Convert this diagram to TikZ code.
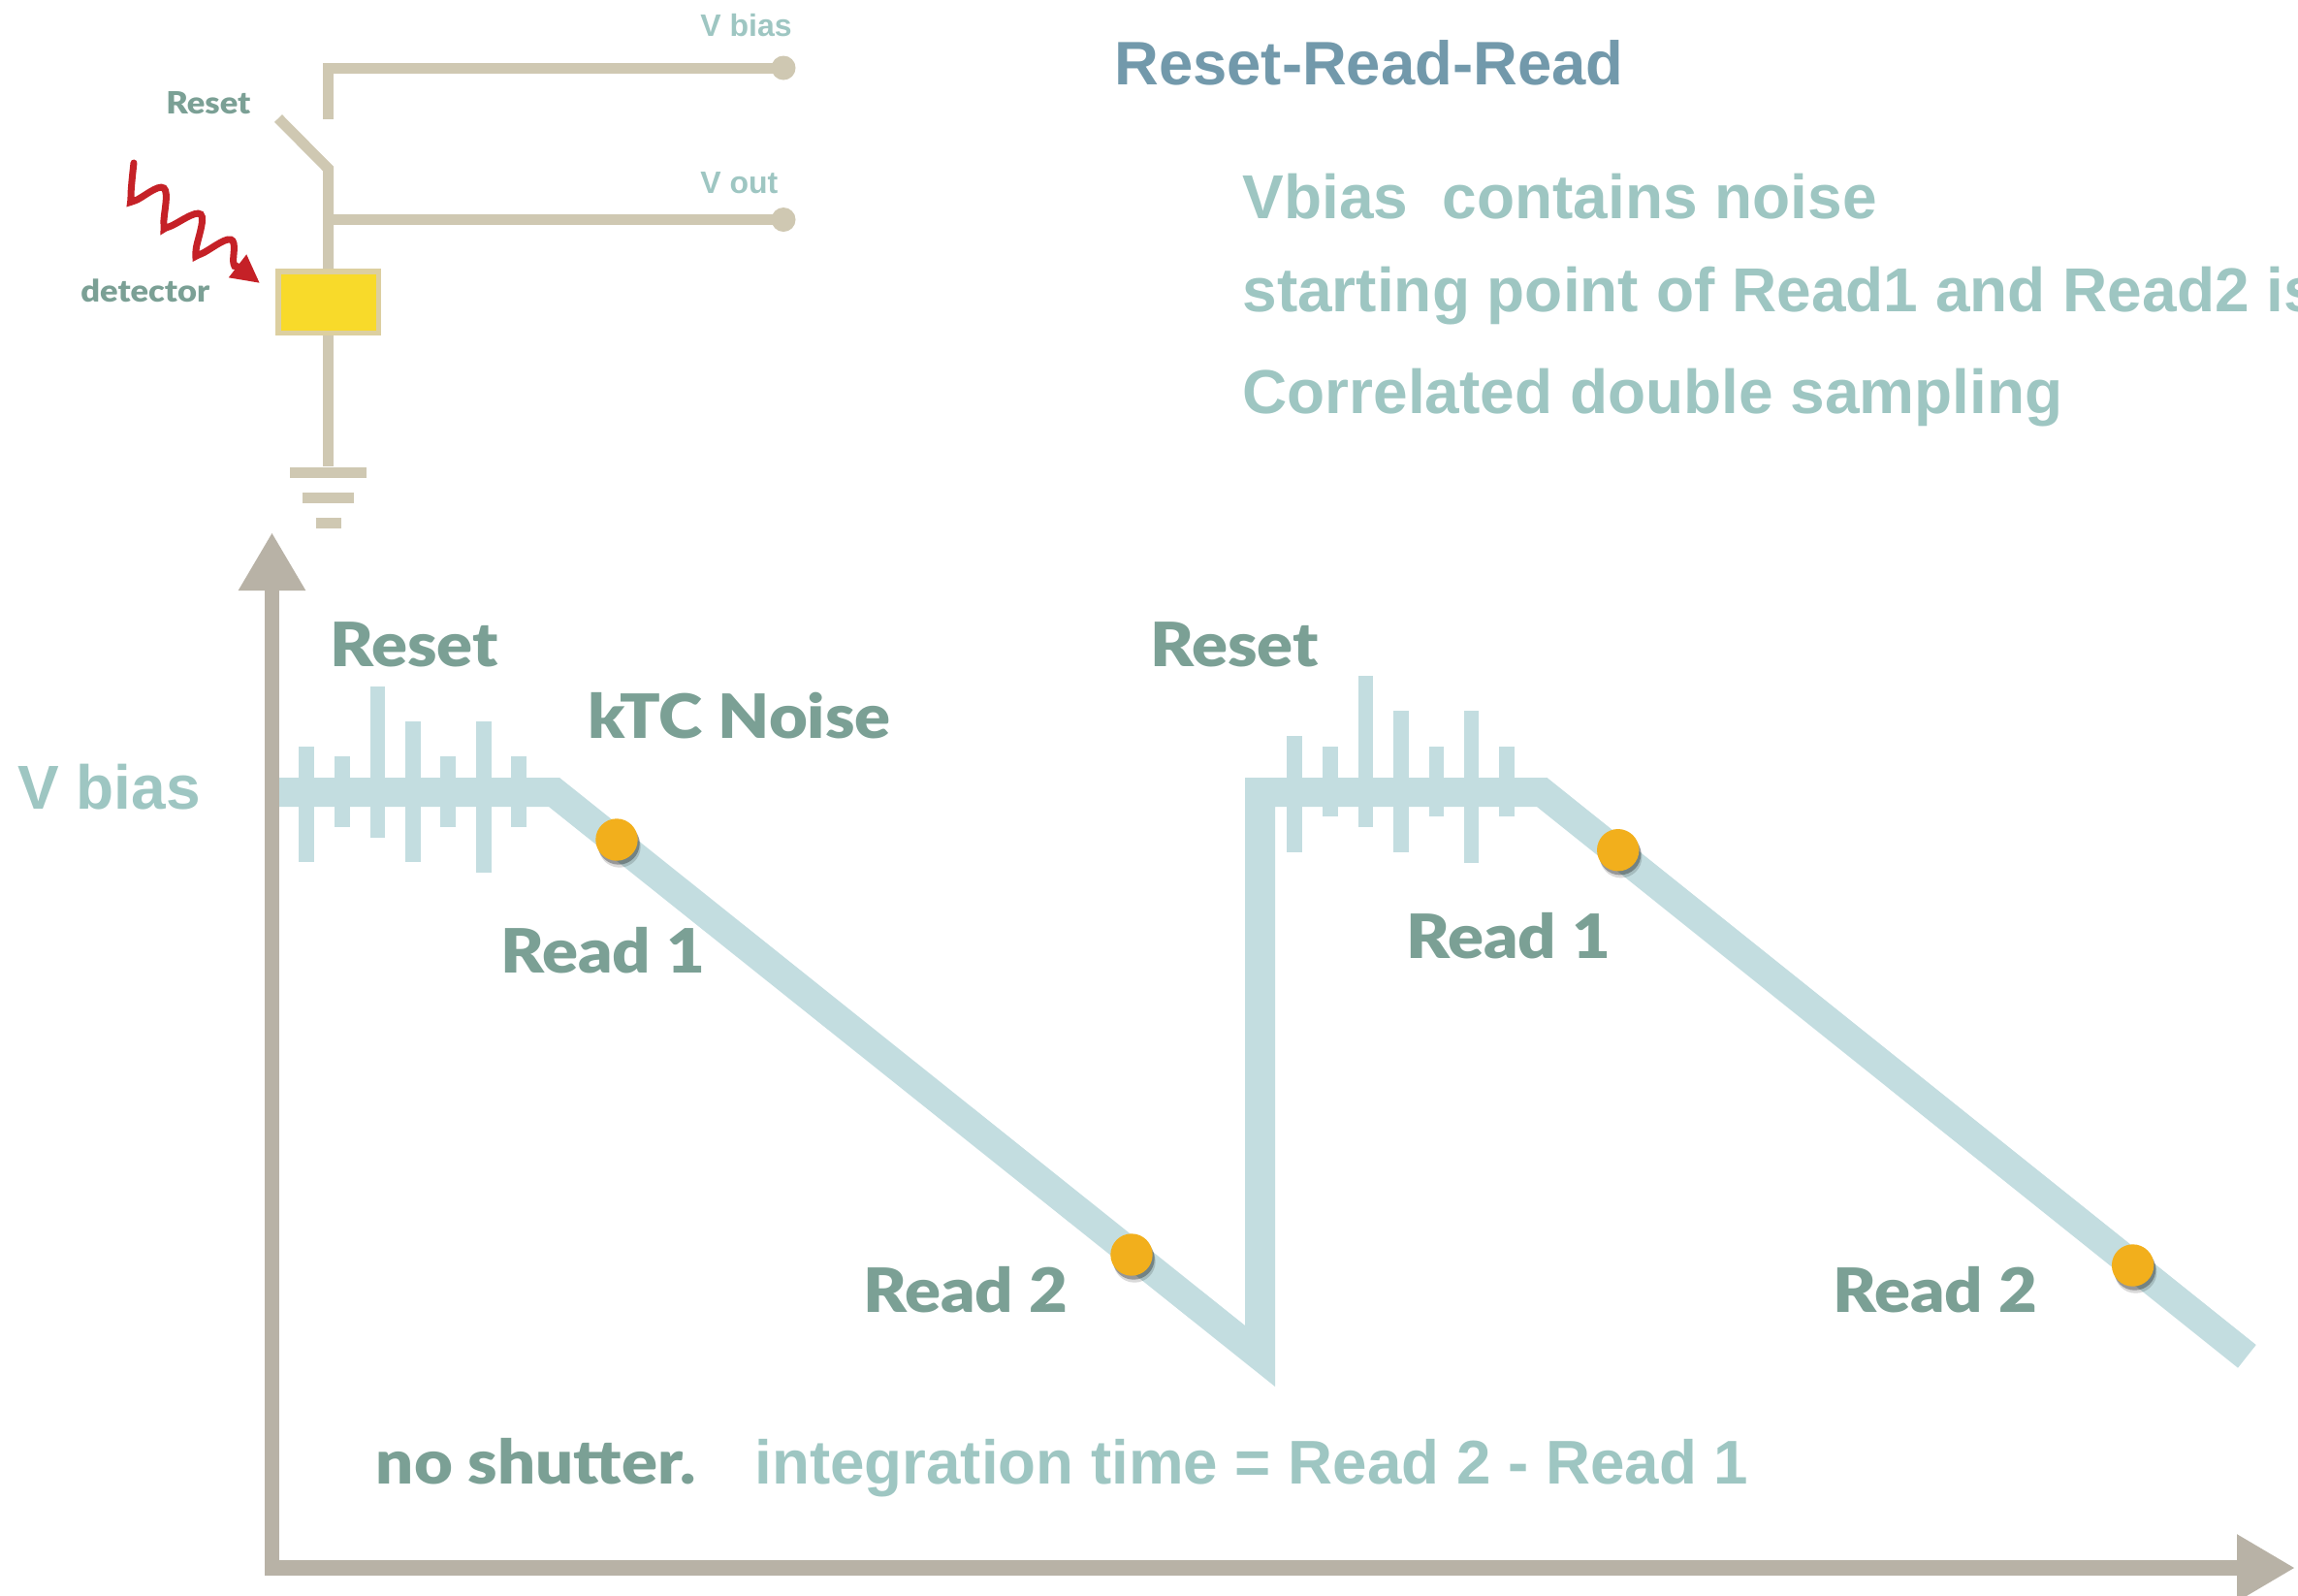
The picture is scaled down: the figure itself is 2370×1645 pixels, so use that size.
\documentclass[tikz,border=0pt]{standalone}
\usepackage{fontspec}
\setmainfont{Liberation Sans}
\newfontfamily\labelfont[FakeStretch=1.09]{Lato Black}
\usetikzlibrary{arrows.meta}
\usetikzlibrary{shadows}
\definecolor{wirecol}{HTML}{CFC8B2}
\definecolor{axiscol}{HTML}{B8B2A6}
\definecolor{tracecol}{HTML}{C3DDE0}
\definecolor{greencol}{HTML}{7BA095}
\definecolor{palecol}{HTML}{9EC6C2}
\definecolor{titlecol}{HTML}{7299AB}
\definecolor{dotcol}{HTML}{F2AF1C}
\definecolor{detcol}{HTML}{F8DA2A}
\definecolor{detedge}{HTML}{DCCFA0}
\definecolor{photoncol}{HTML}{C52127}
\tikzset{wire/.style={draw=wirecol, line width=5.5pt}}
\tikzset{terminal/.style={circle, fill=wirecol, inner sep=0pt, minimum size=12.5pt}}
\tikzset{gndbar/.style={rectangle, fill=wirecol, inner sep=0pt, minimum height=5.5pt}}
\tikzset{axis/.style={draw=axiscol, line width=7.75pt, {Triangle[length=30pt,width=32.5pt]}-{Triangle[length=30pt,width=32.5pt]}}}
\tikzset{noise/.style={draw=tracecol, line width=7.75pt}}
\tikzset{readdot/.style={circle, fill=dotcol, inner sep=0pt, minimum size=21.7pt, drop shadow={shadow xshift=1.5pt, shadow yshift=-3.5pt, opacity=.15, fill=black}, drop shadow={shadow xshift=1pt, shadow yshift=-2pt, opacity=.3, fill=black}}}
\tikzset{txt/.style={anchor=base west, inner sep=0pt}}
\tikzset{bigpale/.style={txt, text=palecol, font=\bfseries\fontsize{32pt}{36pt}\selectfont}}
\tikzset{biggreen/.style={txt, text=greencol, font=\labelfont\fontsize{31.5pt}{36pt}\selectfont}}
\tikzset{smallpale/.style={txt, text=palecol, font=\bfseries\fontsize{16pt}{18pt}\selectfont}}
\tikzset{smallgreen/.style={txt, text=greencol, font=\labelfont\fontsize{15.8pt}{18pt}\selectfont}}

\begin{document}
\begin{tikzpicture}[x=0.5pt,y=-0.5pt]
    \useasboundingbox (0,0) rectangle (2370,1645);

    % circuit
    \node[terminal]       (vbiaspin)    at (808,70)      {};
    \node[terminal]       (voutpin)     at (808,226.5)   {};
    \node[rectangle, draw=detedge, line width=2.75pt, fill=detcol, minimum width=51.75pt, minimum height=31.75pt] (detector) at (338.5,311.5) {};
    \node[gndbar, minimum width=39.5pt]   (gnda)  at (338.5,487)   {};
    \node[gndbar, minimum width=26.25pt]  (gndb)  at (338.5,513)   {};
    \node[gndbar, minimum width=13pt]     (gndc)  at (338.5,539)   {};
    \coordinate (contact)  at (338.5,122.5);
    \coordinate (swfree)   at (287,122);
    \coordinate (swpivot)  at (338.5,174);
    \coordinate (voutjoin) at (338.5,226.5);

    \draw[wire] (contact) |- (vbiaspin.center);
    \draw[wire] (swfree) -- (swpivot) -- (detector.north);
    \draw[wire] (voutjoin) -- (voutpin.center);
    \draw[wire] (detector.south) -- (gnda.north);

    \draw[draw=photoncol, line width=3.5pt, line cap=round, -{Triangle[length=14.5pt,width=14pt]}] plot[smooth, tension=.7] coordinates {(138,168) (135,203) (139,207) (169,194) (169,231) (174,234) (207,221) (202,259) (207,262) (238,247) (241,272) (247,276) (268,292)};

    \node[smallpale]  (vbiassmall) at (722,37)  {V bias};
    \node[smallpale]  (voutsmall)  at (722,199) {V out};
    \node[smallgreen] (resetsmall) at (171,117.5) {Reset};
    \node[smallgreen] (detlabel)   at (83,311)  {detector};

    % title and notes
    \node[bigpale, text=titlecol, font=\bfseries\fontsize{31.7pt}{36pt}\selectfont] (title) at (1149,87) {Reset-Read-Read};
    \node[bigpale] (noteone)   at (1281,225.7) {Vbias\ \ contains noise};
    \node[bigpale] (notetwo)   at (1281,321.7) {starting point of Read1 and Read2 is};
    \node[bigpale] (notethree) at (1281,426)   {Correlated double sampling};

    % axes
    \coordinate (ytop)  at (280.5,549);
    \coordinate (xtip)  at (2367,1617);
    \draw[axis] (ytop) |- (xtip);

    % signal
    \fill[tracecol] (288,802) -- (577,802) -- (1284,1367) -- (1284,802) -- (1595.5,802) -- (2326.7,1387) -- (2308,1410.7) -- (1585,832) -- (1315,832) -- (1315,1430) -- (566,832) -- (288,832) -- cycle;
    \foreach \x/\t/\b in {316/770/889, 353/780/853, 389.5/708/864, 426/744/889, 462/780/853, 499/744/900, 535/780/853}
        \draw[noise] (\x,\t) -- (\x,\b);
    \foreach \x/\t/\b in {1335/759/879, 1372/770/842, 1408.7/697/853, 1445/733/879, 1481.5/770/842, 1517.6/733/890, 1554/770/842}
        \draw[noise] (\x,\t) -- (\x,\b);

    \node[readdot] (readaa) at (636,866)      {};
    \node[readdot] (readab) at (1167,1294)    {};
    \node[readdot] (readba) at (1668.7,876.7) {};
    \node[readdot] (readbb) at (2199.6,1305)  {};

    \node[bigpale]  (vbiasbig)  at (18,834)      {V bias};
    \node[biggreen] (resetone)  at (340,687.7)   {Reset};
    \node[biggreen] (resettwo)  at (1186,687.7)  {Reset};
    \node[biggreen] (ktc)       at (606,761.7)   {kTC Noise};
    \node[biggreen] (readoneA)  at (516,1003)    {Read 1};
    \node[biggreen] (readtwoA)  at (890,1353.7)  {Read 2};
    \node[biggreen] (readoneB)  at (1450,988)    {Read 1};
    \node[biggreen] (readtwoB)  at (1890,1353.7) {Read 2};
    \node[biggreen] (shutter)   at (387.5,1530)  {no shutter.};
    \node[bigpale, font=\bfseries\fontsize{31.85pt}{36pt}\selectfont]  (integ) at (778,1530) {integration time = Read 2 - Read 1};
\end{tikzpicture}
\end{document}
